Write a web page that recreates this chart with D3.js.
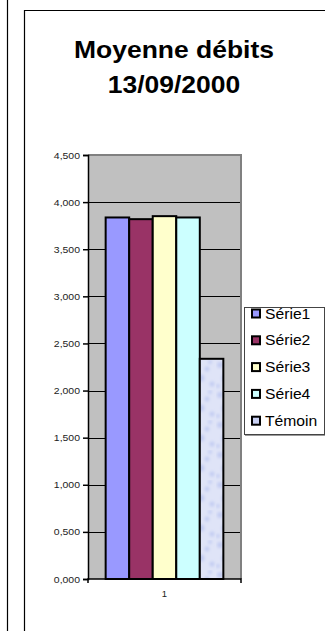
<!DOCTYPE html>
<html>
<head>
<meta charset="utf-8">
<script src="https://cdn.jsdelivr.net/npm/d3@7"></script>
<style>
html,body{margin:0;padding:0;background:#fff;}
svg{display:block;font-family:Arial,"Liberation Sans",sans-serif;}
</style>
</head>
<body>
<svg id="chart" width="325" height="631"></svg>
<script>
// ---- data ----
const categories = ["1"];
const seriesNames = ["Série1", "Série2", "Série3", "Série4", "Témoin"];
const seriesValues = [3.837, 3.819, 3.851, 3.837, 2.337];
const seriesColors = ["#9999ff", "#993366", "#ffffcc", "#ccffff", "url(#tex)"];
const legendColors = ["#9999ff", "#993366", "#ffffcc", "#ccffff", "#c9d0f3"];
const yTicks = [0, 0.5, 1, 1.5, 2, 2.5, 3, 3.5, 4, 4.5];
const titleLines = ["Moyenne débits", "13/09/2000"];

(function () {
const svg = d3.select("#chart");

function stretch(sel, k) {
  sel.each(function () {
    const len = this.getComputedTextLength();
    d3.select(this).attr("textLength", len * k).attr("lengthAdjust", "spacingAndGlyphs");
  });
}

// texture for Témoin
const defs = svg.append("defs");
const filt = defs.append("filter").attr("id", "blur").attr("x", "-50%").attr("y", "-50%").attr("width", "200%").attr("height", "200%");
filt.append("feGaussianBlur").attr("stdDeviation", 1.6);
const pat = defs.append("pattern").attr("id", "tex").attr("patternUnits", "userSpaceOnUse").attr("width", 24).attr("height", 30);
pat.append("rect").attr("width", 24).attr("height", 30).attr("fill", "#dfe4f7");
const spots = [[4, 5, 3], [15, 9, 2.5], [9, 18, 3.5], [20, 24, 2.5], [2, 26, 2], [18, 2, 2]];
pat.append("g").attr("filter", "url(#blur)").selectAll("circle").data(spots).join("circle")
  .attr("cx", d => d[0]).attr("cy", d => d[1]).attr("r", d => d[2]).attr("fill", "#c2ccf2");

// frame lines
svg.append("line").attr("x1", 7.5).attr("x2", 7.5).attr("y1", 0).attr("y2", 631).attr("stroke", "#000").attr("stroke-width", 1.2);
svg.append("path").attr("d", "M24.5,631V10.5H326").attr("fill", "none").attr("stroke", "#000").attr("stroke-width", 1.2);

// title
svg.append("g").selectAll("text").data(titleLines).join("text")
  .attr("x", 174).attr("y", (d, i) => 58 + i * 35)
  .attr("text-anchor", "middle").attr("font-size", 24.5).attr("font-weight", "bold")
  .attr("fill", "#000").text(d => d)
  .call(stretch, 1.08);

// plot geometry
const pLeft = 88, pRight = 241, pTop = 155, pBottom = 579;

const y = d3.scaleLinear().domain([0, 4.5]).range([pBottom, pTop]);
const x0 = d3.scaleBand().domain(categories).range([pLeft, pRight]).paddingInner(0).paddingOuter(0.15);
const x1 = d3.scaleBand().domain(seriesNames).range([0, x0.bandwidth()]).padding(0);

const loc = d3.formatLocale({decimal: ",", thousands: " ", grouping: [3], currency: ["", " €"]});
const fmt = loc.format(".3f");

// plot background
svg.append("rect").attr("x", pLeft).attr("y", pTop).attr("width", pRight - pLeft).attr("height", pBottom - pTop).attr("fill", "#c0c0c0");

// gridlines
svg.append("g").selectAll("line").data(yTicks.filter(t => t > 0 && t < 4.5)).join("line")
  .attr("x1", pLeft).attr("x2", pRight)
  .attr("y1", d => Math.round(y(d)) + 0.5).attr("y2", d => Math.round(y(d)) + 0.5)
  .attr("stroke", "#000").attr("stroke-width", 1);

// top / right gray border
svg.append("path").attr("d", `M${pLeft},${pTop}H${pRight}V${pBottom}`).attr("fill", "none").attr("stroke", "#808080").attr("stroke-width", 2);

// bars
svg.append("g").selectAll("rect").data(seriesNames.map((n, i) => ({n, v: seriesValues[i], c: seriesColors[i]}))).join("rect")
  .attr("x", d => x0("1") + x1(d.n))
  .attr("y", d => y(d.v))
  .attr("width", x1.bandwidth())
  .attr("height", d => y(0) - y(d.v))
  .attr("fill", d => d.c)
  .attr("stroke", "#000").attr("stroke-width", 2);

// y axis
const yAxis = svg.append("g").attr("transform", `translate(${pLeft},0)`)
  .call(d3.axisLeft(y).tickValues(yTicks).tickFormat(fmt).tickSize(5).tickPadding(3));
yAxis.select(".domain").attr("stroke", "#000").attr("stroke-width", 1.5);
yAxis.selectAll(".tick line").attr("stroke", "#000").attr("stroke-width", 1.5);
yAxis.selectAll(".tick text").attr("font-size", 9.5).attr("fill", "#222").attr("font-family", "Arial,'Liberation Sans',sans-serif").call(stretch, 1.1);

// x axis
const xAxis = svg.append("g").attr("transform", `translate(0,${pBottom})`)
  .call(d3.axisBottom(x0).tickSize(0).tickPadding(11));
xAxis.select(".domain").attr("stroke", "#000").attr("stroke-width", 1.5).attr("d", `M${pLeft},4V0H${pRight}V4`);
xAxis.selectAll(".tick text").attr("font-size", 9.5).attr("fill", "#222").attr("font-family", "Arial,'Liberation Sans',sans-serif");

// legend
const lg = svg.append("g");
const lx = 244, ly = 307, lw = 80, lh = 127;
lg.append("rect").attr("x", lx + 1.5).attr("y", ly + 1.5).attr("width", lw).attr("height", lh).attr("fill", "none").attr("stroke", "#9a9a9a").attr("stroke-width", 1);
lg.append("rect").attr("x", lx + 0.5).attr("y", ly + 0.5).attr("width", lw).attr("height", lh).attr("fill", "#fff").attr("stroke", "#444").attr("stroke-width", 1);
const items = lg.selectAll("g.item").data(seriesNames).join("g").attr("class", "item")
  .attr("transform", (d, i) => `translate(0,${318.5 + i * 26.8})`);
items.append("rect").attr("x", 252).attr("y", -9).attr("width", 8).attr("height", 8)
  .attr("fill", (d, i) => legendColors[i]).attr("stroke", "#000").attr("stroke-width", 2);
items.append("text").attr("x", 265).attr("y", 0).attr("font-size", 14).attr("fill", "#000").text(d => d)
  .call(stretch, 1.12);
})();
</script>
</body>
</html>
